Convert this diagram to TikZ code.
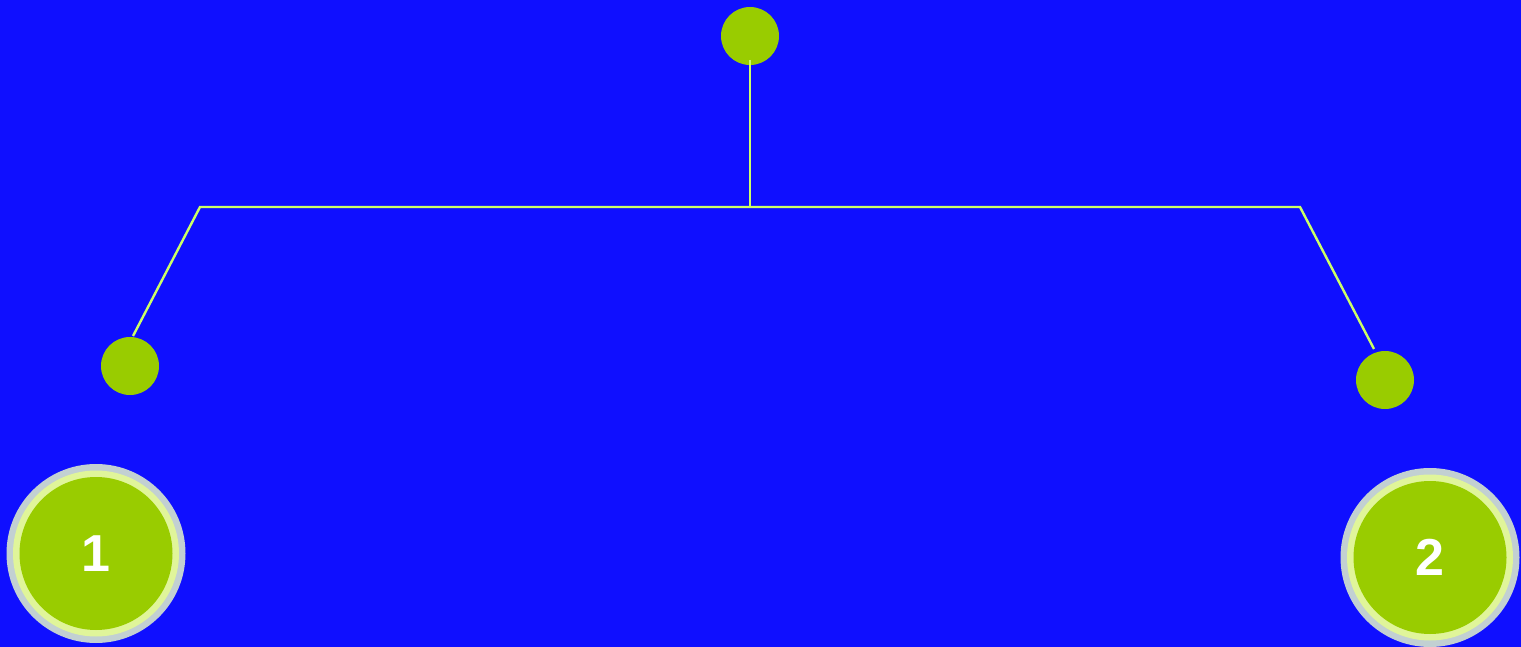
\documentclass[tikz,border=0pt]{standalone}
\usepackage{fontspec}
\setmainfont{Liberation Sans}
\definecolor{bg}{HTML}{0F0FFF}
\definecolor{leaf}{HTML}{99CC00}
\definecolor{wire}{HTML}{CCFF66}
\definecolor{ringout}{HTML}{C2D0D2}
\definecolor{ringin}{HTML}{E0F59A}
\tikzset{
  dot/.style={circle,fill=leaf,minimum size=58pt,inner sep=0pt},
  bigdisc/.style={circle,fill=ringout,minimum size=179pt,inner sep=0pt,text=white,
    font=\fontsize{52}{52}\selectfont\bfseries,
    path picture={
      \fill[ringin] (path picture bounding box.center) circle (83pt);
      \fill[leaf] (path picture bounding box.center) circle (76.5pt);
    }},
  wireline/.style={draw=wire,line width=2.4pt}
}
\begin{document}
\begin{tikzpicture}[x=1pt,y=-1pt]
\fill[bg] (0,0) rectangle (1521,647);
\useasboundingbox (0,0) rectangle (1521,647);
\node[dot] (top) at (750,36) {};
\node[dot] (l) at (130,366) {};
\node[dot] (r) at (1385,380) {};
\coordinate (tb) at (750,60);
\coordinate (m) at (750,207);
\coordinate (lc) at (200,207);
\coordinate (rc) at (1300,207);
\coordinate (le) at (133,336);
\coordinate (re) at (1374,349);
\draw[wireline] (tb) -- (m);
\draw[wireline] (le) -- (lc) -- (rc) -- (re);
\node[bigdisc] (one) at (96,553.5) {1};
\node[bigdisc] (two) at (1430,557.5) {2};
\end{tikzpicture}
\end{document}
